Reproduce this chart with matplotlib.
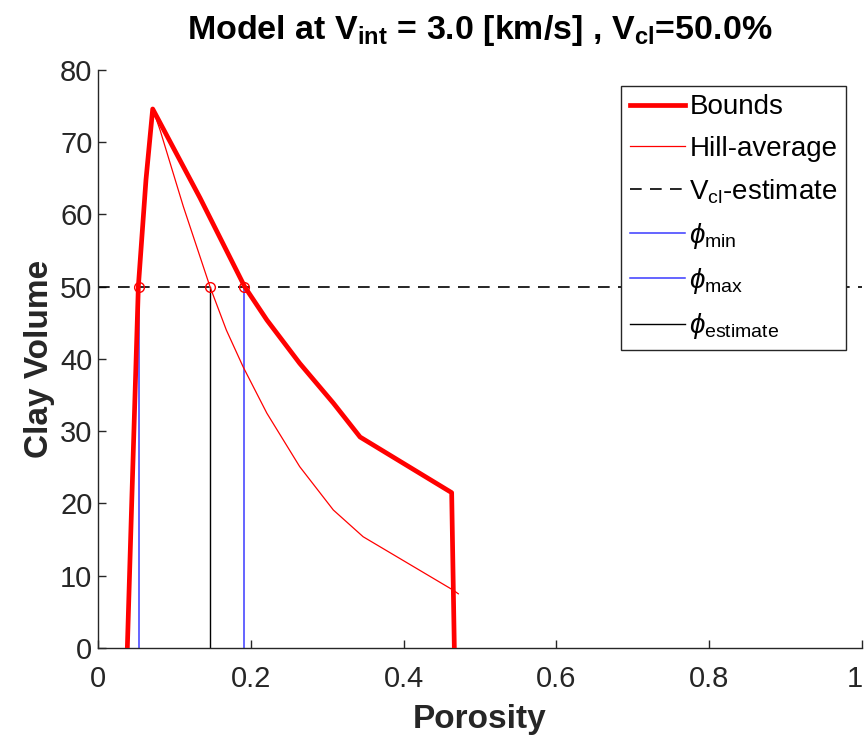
import matplotlib
matplotlib.use("Agg")
import matplotlib.pyplot as plt
import matplotlib.transforms as mtransforms
import numpy as np

plt.rcParams["font.family"] = ["Liberation Sans", "DejaVu Sans"]
plt.rcParams["mathtext.fontset"] = "custom"
plt.rcParams["mathtext.rm"] = "Liberation Sans"
plt.rcParams["mathtext.it"] = "Liberation Sans:italic"
plt.rcParams["mathtext.bf"] = "Liberation Sans:bold"

# Bounds polygon (porosity, clay volume %)
bounds_phi = [0.0384, 0.0441, 0.0528, 0.0628, 0.0716, 0.1335, 0.192, 0.221, 0.264, 0.308, 0.343, 0.4629, 0.4664]
bounds_vcl = [0.0, 20.0, 50.0, 64.8, 74.6, 62.3, 50.0, 45.4, 39.4, 33.9, 29.2, 21.5, 0.0]

# Hill average
hill_phi = [0.0716, 0.0812, 0.1117, 0.1466, 0.168, 0.190, 0.221, 0.264, 0.308, 0.347, 0.465, 0.4716]
hill_vcl = [74.6, 71.7, 61.1, 50.0, 44.0, 38.9, 32.5, 25.1, 19.1, 15.4, 8.0, 7.5]

vcl_est = 50.0
phi_min = 0.0535
phi_max = 0.191
phi_est = 0.1466

fig = plt.figure(figsize=(8.68, 7.42), dpi=100)
ax = fig.add_axes([0.1129, 0.1267, 0.8802, 0.779])

ax.plot(bounds_phi, bounds_vcl, "-", color="red", lw=3.4, label="Bounds", zorder=3)
ax.plot(hill_phi, hill_vcl, "-", color="red", lw=0.9, label="Hill-average", zorder=3)
ax.plot([0, 1], [vcl_est, vcl_est], "--", color="black", lw=1.2, dashes=(7, 5),
        label="V$_{\\rm cl}$-estimate", zorder=2)
ax.plot([phi_min, phi_min], [0, vcl_est], "-", color="#3a3aff", lw=1.1,
        label="$\\phi_{\\rm min}$", zorder=2)
ax.plot([phi_max, phi_max], [0, vcl_est], "-", color="#3a3aff", lw=1.1,
        label="$\\phi_{\\rm max}$", zorder=2)
ax.plot([phi_est, phi_est], [0, vcl_est], "-", color="black", lw=1.0,
        label="$\\phi_{\\rm estimate}$", zorder=2)
ax.plot([phi_min, phi_est, phi_max], [vcl_est] * 3, "o", mfc="none", mec="red",
        ms=7, mew=1.0, zorder=4)

ax.set_xlim(0, 1)
ax.set_ylim(0, 80)
ax.set_xticks([0, 0.2, 0.4, 0.6, 0.8, 1])
ax.set_xticklabels(["0", "0.2", "0.4", "0.6", "0.8", "1"])
ax.set_yticks(np.arange(0, 81, 10))
ax.tick_params(direction="in", length=6, width=1, colors="#262626", labelsize=21)
ax.tick_params(axis="x", pad=12)
ax.tick_params(axis="y", pad=4)
for s in ["top", "right"]:
    ax.spines[s].set_visible(False)
for s in ["left", "bottom"]:
    ax.spines[s].set_color("#262626")
    ax.spines[s].set_linewidth(1.0)

# keep the last x tick label inside the figure
last = ax.get_xticklabels()[-1]
last.set_transform(last.get_transform() + mtransforms.ScaledTranslation(-5 / 72, 0, fig.dpi_scale_trans))

ax.set_xlabel("Porosity", fontsize=24, fontweight="bold", color="#262626", labelpad=8)
ax.set_ylabel("Clay Volume", fontsize=24, fontweight="bold", color="#262626", labelpad=4)
ax.set_title("Model at V$_{\\mathbf{int}}$ = 3.0 [km/s] , V$_{\\mathbf{cl}}$=50.0%",
             fontsize=24.5, fontweight="bold", pad=22)

leg = ax.legend(loc="upper right", fontsize=20, frameon=True, fancybox=False,
                edgecolor="#262626", handlelength=2.0, handletextpad=0.15,
                borderaxespad=0.0, bbox_to_anchor=(0.979, 0.972), labelspacing=0.55,
                borderpad=0.3, framealpha=1.0)
leg.get_frame().set_linewidth(1.0)

fig.savefig("out.png", dpi=100)
